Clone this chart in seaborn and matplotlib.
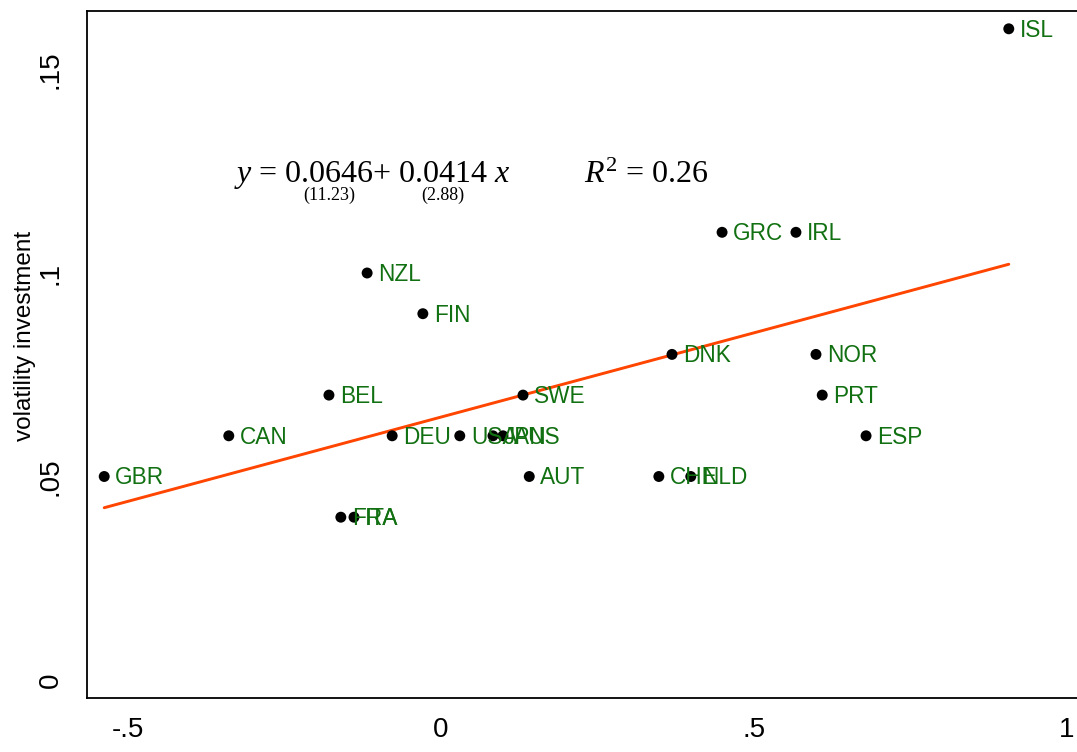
import numpy as np
import matplotlib
matplotlib.use("Agg")
import matplotlib.pyplot as plt
import seaborn as sns
from pandas import DataFrame as df

# values
countries = ["GBR", "CAN", "BEL", "NZL", "FIN", "DEU", "USA", "JPN", "AUS", "SWE",
             "AUT", "FRA", "ITA", "CHE", "NLD", "DNK", "GRC", "IRL", "NOR", "PRT",
             "ESP", "ISL"]
corr = [-0.538, -0.339, -0.179, -0.118, -0.029, -0.078, 0.030, 0.083, 0.099, 0.131,
        0.141, -0.160, -0.139, 0.348, 0.399, 0.369, 0.449, 0.567, 0.599, 0.609,
        0.679, 0.907]
vol_inv = [0.05, 0.06, 0.07, 0.10, 0.09, 0.06, 0.06, 0.06, 0.06, 0.07,
           0.05, 0.04, 0.04, 0.05, 0.05, 0.08, 0.11, 0.11, 0.08, 0.07,
           0.06, 0.16]
intercept = 0.0646
slope = 0.0414
t_int = "(11.23)"
t_slope = "(2.88)"
r2 = 0.26

data = df({"country": countries, "x": corr, "y": vol_inv})

sns.set_style("white")
plt.rcParams["font.family"] = ["Liberation Sans", "DejaVu Sans"]
plt.rcParams["text.color"] = "black"
plt.rcParams["axes.labelcolor"] = "black"
plt.rcParams["mathtext.fontset"] = "custom"
plt.rcParams["mathtext.rm"] = "Liberation Serif"
plt.rcParams["mathtext.it"] = "Liberation Serif:italic"

fig = plt.figure(figsize=(10.77, 7.52), dpi=100)
W, H = 1077.0, 752.0
ax = fig.add_axes([87 / W, 1 - 698 / H, (1090 - 87) / W, (698 - 11) / H])

# fitted line across the data range
xs = np.array([min(corr), max(corr)])
fit = df({"x": xs, "y": intercept + slope * xs})
sns.lineplot(data=fit, x="x", y="y", color="#ff4500", linewidth=2.1, ax=ax)

sns.scatterplot(data=data, x="x", y="y", color="black", s=62, edgecolor="none",
                ax=ax, zorder=3)
for i in range(len(countries)):
    ax.annotate(countries[i], (corr[i], vol_inv[i]), xytext=(8, -1),
                textcoords="offset points", va="center", ha="left",
                fontsize=16.3, color="#117011")

# regression equation
serif = ["Liberation Serif", "DejaVu Serif"]
ax.text(-0.330, 0.1240, r"$y$ = 0.0646+ 0.0414 $x$", fontsize=23, family=serif,
        ha="left", va="center", color="black")
ax.text(-0.178, 0.1190, t_int, fontsize=13, family=serif, ha="center",
        va="center", color="black")
ax.text(0.003, 0.1190, t_slope, fontsize=13, family=serif, ha="center",
        va="center", color="black")
ax.text(0.228, 0.1240, r"$R^2$ = %.2f" % r2, fontsize=23, family=serif,
        ha="left", va="center", color="black")

x0 = (87 - 441) / 626.0
x1 = (1090 - 441) / 626.0
ax.set_xlim(x0, x1)
ax.set_ylim((680 - 698) / 4070.0, (680 - 11) / 4070.0)
ax.set_xticks([-0.5, 0, 0.5, 1])
ax.set_xticklabels(["-.5", "0", ".5", "1"])
ax.set_yticks([0, 0.05, 0.1, 0.15])
ax.set_yticklabels(["0", ".05", ".1", ".15"], rotation=90, va="center")
ax.tick_params(axis="both", direction="out", length=9, width=1, labelsize=20,
               colors="black")
ax.tick_params(axis="x", pad=5)
ax.tick_params(axis="y", pad=8)
ax.set_xlabel("")
ax.set_ylabel("volatility investment", fontsize=17.5)
ax.yaxis.set_label_coords(-0.051, 0.527)
for side in ["left", "bottom", "top", "right"]:
    ax.spines[side].set_color("black")
    ax.spines[side].set_linewidth(1.3)

fig.savefig("out.png", dpi=100)
